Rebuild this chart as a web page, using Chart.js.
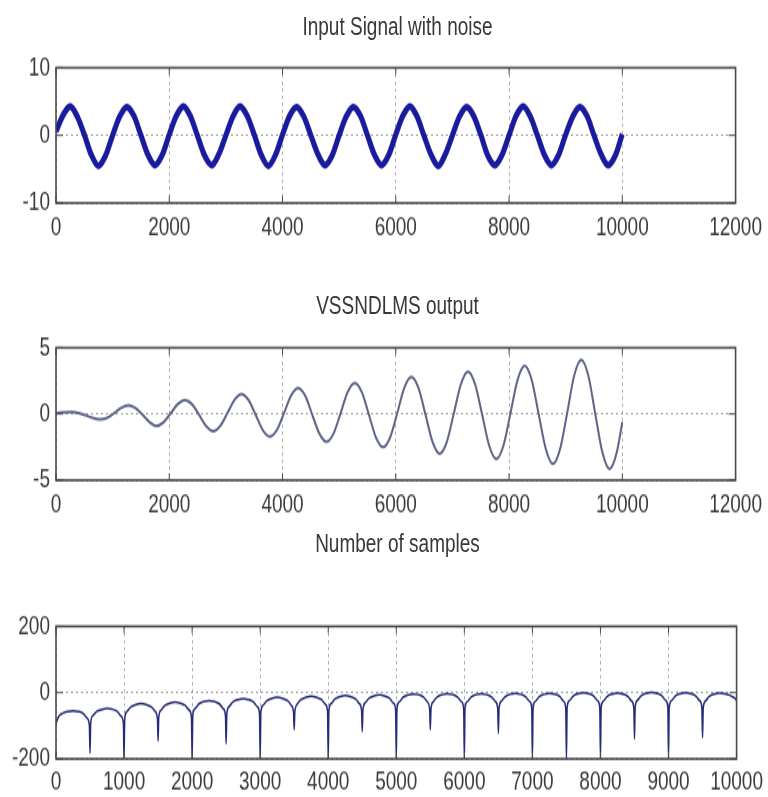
<!DOCTYPE html>
<html>
<head>
<meta charset="utf-8">
<script src="https://cdn.jsdelivr.net/npm/chart.js@4.4.0/dist/chart.umd.min.js"></script>
<style>
  html, body { margin: 0; padding: 0; background: #fff; }
  body { width: 768px; height: 797px; overflow: hidden; position: relative; }
  /* the whole figure is drawn a bit squat and stretched up, like the old MATLAB export */
  #page { position: absolute; left: 0; top: 0; width: 768px; height: 570px; transform: scaleY(1.4); transform-origin: 0 0; }
  canvas { position: absolute; left: 0; }
  .title { position: absolute; left: 56px; width: 683px; text-align: center; font: 19px 'Liberation Sans', Arial, sans-serif; color: #383838; line-height: 20px; }
</style>
</head>
<body>
<div id="page">
  <div class="title" style="top:9px">Input Signal with noise</div>
  <canvas id="c1" width="768" height="144" style="top:31px"></canvas>
  <div class="title" style="top:208px">VSSNDLMS output</div>
  <canvas id="c2" width="768" height="142" style="top:231px"></canvas>
  <div class="title" style="top:378px">Number of samples</div>
  <canvas id="c3" width="768" height="138" style="top:430px"></canvas>
</div>
<script>
// Входной сигнал с шумом
const inputX = [
  0, 125, 250, 375, 500, 625, 750, 875,
  1000, 1125, 1250, 1375, 1500, 1625, 1750, 1875,
  2000, 2125, 2250, 2375, 2500, 2625, 2750, 2875,
  3000, 3125, 3250, 3375, 3500, 3625, 3750, 3875,
  4000, 4125, 4250, 4375, 4500, 4625, 4750, 4875,
  5000, 5125, 5250, 5375, 5500, 5625, 5750, 5875,
  6000, 6125, 6250, 6375, 6500, 6625, 6750, 6875,
  7000, 7125, 7250, 7375, 7500, 7625, 7750, 7875,
  8000, 8125, 8250, 8375, 8500, 8625, 8750, 8875,
  9000, 9125, 9250, 9375, 9500, 9625, 9750, 9875,
  10000
];
const inputY = [
  0.6, 3.0, 4.3, 2.8, 0.1, -2.9, -4.5, -3.0,
  0.0, 2.8, 4.2, 2.9, 0.0, -2.9, -4.4, -2.9,
  0.1, 2.9, 4.3, 2.8, -0.1, -3.0, -4.4, -2.8,
  0.0, 2.8, 4.3, 2.9, 0.1, -2.9, -4.5, -2.9,
  0.1, 2.9, 4.2, 2.8, 0.0, -2.8, -4.4, -3.0,
  0.0, 2.8, 4.2, 2.9, 0.0, -2.9, -4.4, -2.9,
  0.1, 2.9, 4.3, 2.8, -0.1, -2.9, -4.5, -2.8,
  0.0, 2.8, 4.2, 2.9, 0.1, -3.0, -4.4, -2.9,
  0.0, 2.9, 4.3, 2.8, 0.0, -2.9, -4.4, -2.9,
  0.1, 2.8, 4.2, 2.9, 0.0, -2.8, -4.4, -3.0,
  0.2
];

// Выход VSSNDLMS
const outX = [
  0, 25, 150, 275, 400, 525, 650, 775, 900,
  1025, 1150, 1275, 1400, 1525, 1650, 1775, 1900,
  2025, 2150, 2275, 2400, 2525, 2650, 2775, 2900,
  3025, 3150, 3275, 3400, 3525, 3650, 3775, 3900,
  4025, 4150, 4275, 4400, 4525, 4650, 4775, 4900,
  5025, 5150, 5275, 5400, 5525, 5650, 5775, 5900,
  6025, 6150, 6275, 6400, 6525, 6650, 6775, 6900,
  7025, 7150, 7275, 7400, 7525, 7650, 7775, 7900,
  8025, 8150, 8275, 8400, 8525, 8650, 8775, 8900,
  9025, 9150, 9275, 9400, 9525, 9650, 9775, 9900,
  10000
];
const outY = [
  0.05, 0.07, 0.12, 0.15, 0.08, -0.1, -0.3, -0.4, -0.3,
  0.05, 0.45, 0.65, 0.45, -0.05, -0.6, -0.9, -0.62,
  0.05, 0.75, 1.05, 0.75, -0.05, -0.9, -1.3, -0.9,
  0.05, 1.05, 1.5, 1.05, -0.05, -1.2, -1.7, -1.2,
  0.05, 1.38, 1.95, 1.38, -0.05, -1.48, -2.1, -1.48,
  0.05, 1.66, 2.35, 1.66, -0.05, -1.77, -2.5, -1.77,
  0.05, 1.98, 2.8, 1.98, -0.05, -2.12, -3.0, -2.12,
  0.05, 2.26, 3.2, 2.26, -0.05, -2.4, -3.4, -2.4,
  0.05, 2.58, 3.65, 2.58, -0.05, -2.65, -3.75, -2.65,
  0.05, 2.9, 4.1, 2.9, -0.05, -2.93, -4.15, -2.93,
  -0.6
];

// Ошибка (дБ): арки между провалами каждые 500 отсчётов
const archStarts = [0, 500, 1000, 1500, 2000, 2500, 3000, 3500, 4000, 4500,
  5000, 5500, 6000, 6500, 7000, 7500, 8000, 8500, 9000, 9500];
const archOffsets = [0, 10, 40, 100, 175, 250, 325, 400, 460, 490];
const errRows = [
  [-95, -88, -72, -62, -57, -55, -57, -63, -78, -98],
  [-183, -92, -70, -57, -51, -48, -50, -57, -72, -92],
  [-200, -78, -58, -43, -36, -33, -36, -43, -58, -78],
  [-146, -74, -54, -39, -32, -29, -32, -39, -54, -74],
  [-200, -69, -49, -34, -27, -24, -27, -34, -49, -69],
  [-155, -63, -43, -28, -21, -18, -21, -28, -43, -63],
  [-200, -59, -39, -24, -17, -14, -17, -24, -39, -59],
  [-112, -56, -36, -21, -14, -11, -14, -21, -36, -56],
  [-200, -54, -34, -19, -12, -9, -12, -19, -34, -54],
  [-118, -52, -32, -17, -10, -7, -10, -17, -32, -52],
  [-200, -49, -29, -14, -7, -4, -6, -13, -29, -49],
  [-112, -48, -28, -13, -6, -3, -6, -13, -28, -48],
  [-200, -48, -28, -13, -6, -3, -6, -13, -28, -48],
  [-123, -47, -27, -12, -5, -2, -5, -12, -27, -47],
  [-200, -47, -27, -12, -5, -2, -4, -11, -27, -47],
  [-200, -45, -25, -10, -3, 0, -3, -10, -25, -45],
  [-200, -46, -26, -11, -4, -1, -4, -11, -26, -46],
  [-140, -44, -24, -9, -2, 1, -2, -9, -24, -44],
  [-200, -45, -25, -10, -3, 0, -3, -10, -25, -45],
  [-137, -46, -26, -11, -4, -1, -3, -8, -15, -20]
];
const errEndX = 10000;
const errEndY = -25;

const errX = [];
const errY = [];
archStarts.forEach((start, k) => {
  archOffsets.forEach((off, j) => {
    errX.push(start + off);
    errY.push(errRows[k][j]);
  });
});
errX.push(errEndX);
errY.push(errEndY);

const FONT = { family: "'Liberation Sans', Arial, sans-serif", size: 19 };
const TEXT = '#3a3a3a';

// рамка и внутренние засечки как в MATLAB
const boxPlugin = {
  id: 'box',
  afterDraw(chart) {
    const { ctx, chartArea: a, scales } = chart;
    ctx.save();
    ctx.strokeStyle = '#4a4a4a';
    ctx.lineWidth = 1;
    ctx.beginPath();
    scales.x.ticks.forEach(t => {
      const px = scales.x.getPixelForValue(t.value);
      ctx.moveTo(px, a.bottom); ctx.lineTo(px, a.bottom - 5);
      ctx.moveTo(px, a.top); ctx.lineTo(px, a.top + 5);
    });
    scales.y.ticks.forEach(t => {
      const py = scales.y.getPixelForValue(t.value);
      ctx.moveTo(a.left, py); ctx.lineTo(a.left + 7, py);
      ctx.moveTo(a.right, py); ctx.lineTo(a.right - 7, py);
    });
    ctx.stroke();
    ctx.lineWidth = 1.6;
    ctx.strokeRect(a.left, a.top, a.right - a.left, a.bottom - a.top);
    ctx.restore();
  }
};

function makeChart(id, labels, values, cfg) {
  return new Chart(document.getElementById(id), {
    type: 'line',
    data: {
      labels,
      datasets: [{
        data: values,
        borderColor: cfg.color,
        borderWidth: cfg.width,
        pointRadius: 0,
        fill: false,
        cubicInterpolationMode: 'monotone'
      }]
    },
    options: {
      responsive: false,
      animation: false,
      devicePixelRatio: 1,
      layout: { padding: { top: 10, right: 29, bottom: 0, left: 0 } },
      plugins: { legend: { display: false }, tooltip: { enabled: false } },
      scales: {
        x: {
          type: 'linear',
          min: 0,
          max: cfg.xMax,
          afterFit: s => { s.height = cfg.xAxisH; },
          ticks: {
            stepSize: cfg.xStep,
            autoSkip: false,
            maxRotation: 0,
            padding: cfg.xPad,
            color: TEXT,
            font: FONT,
            callback: v => String(v)
          },
          grid: { color: '#9a9a9a', drawTicks: false },
          border: { display: false, dash: [2, 3] }
        },
        y: {
          min: cfg.yMin,
          max: cfg.yMax,
          afterFit: s => { s.width = 56; },
          ticks: {
            stepSize: cfg.yStep,
            padding: 6,
            color: TEXT,
            font: FONT,
            callback: v => String(v)
          },
          grid: { color: '#9a9a9a', drawTicks: false },
          border: { display: false, dash: [2, 3] }
        }
      }
    },
    plugins: [boxPlugin]
  });
}

makeChart('c1', inputX, inputY, {
  color: '#1a1a9c', width: 5, xMax: 12000, xStep: 2000,
  yMin: -10, yMax: 10, yStep: 10, xAxisH: 30, xPad: 6
});
makeChart('c2', outX, outY, {
  color: '#5d6487', width: 2, xMax: 12000, xStep: 2000,
  yMin: -5, yMax: 5, yStep: 5, xAxisH: 30, xPad: 6
});
makeChart('c3', errX, errY, {
  color: '#262b78', width: 1.5, xMax: 10000, xStep: 1000,
  yMin: -200, yMax: 200, yStep: 200, xAxisH: 26, xPad: 5
});
</script>
</body>
</html>
